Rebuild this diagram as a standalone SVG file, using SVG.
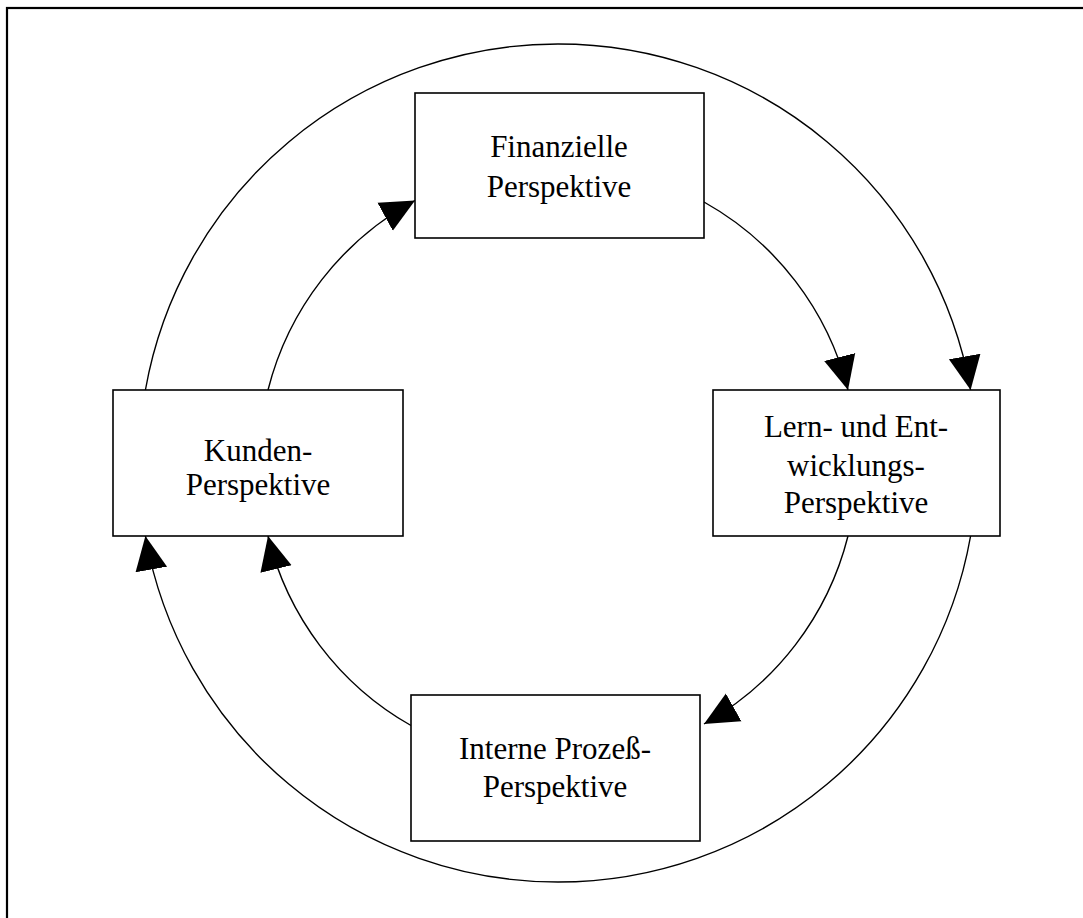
<svg xmlns="http://www.w3.org/2000/svg" width="1083" height="918" viewBox="0 0 1083 918">
  <style>
    .box { fill: #ffffff; stroke: #000000; stroke-width: 1.6; }
    .lbl { font-family: "Liberation Serif", "Times New Roman", serif; font-size: 31px; fill: #000000; text-anchor: middle; }
    .arc { fill: none; stroke: #000000; stroke-width: 1.4; marker-end: url(#head); }
  </style>
  <defs>
    <marker id="head" markerUnits="userSpaceOnUse" viewBox="0 0 34 34" refX="34" refY="17" markerWidth="34" markerHeight="34" orient="auto">
      <path d="M0,1 L34,17 L0,33 z" fill="#000000"/>
    </marker>
  </defs>
  <rect width="1083" height="918" fill="#ffffff"/>
  <!-- page frame (runs off the right and bottom edges) -->
  <rect x="7" y="8" width="1100" height="930" fill="none" stroke="#000000" stroke-width="2.2"/>

  <g id="connectors">
    <!-- outer ring -->
    <path class="arc" d="M145.4,390 A419,419 0 0 1 970.6,390"/>
    <path class="arc" d="M970.6,536 A419,419 0 0 1 145.4,536"/>
    <!-- inner ring -->
    <path class="arc" d="M268,390 A299,299 0 0 1 415,200.5"/>
    <path class="arc" d="M704,202 A299,299 0 0 1 848,390"/>
    <path class="arc" d="M848,536 A299,299 0 0 1 704,724"/>
    <path class="arc" d="M411,725.5 A299,299 0 0 1 268,536"/>
  </g>

  <g id="finanzielle">
    <rect class="box" x="415" y="93" width="289" height="145"/>
    <text class="lbl" x="559" y="157">Finanzielle</text>
    <text class="lbl" x="559" y="197">Perspektive</text>
  </g>
  <g id="kunden">
    <rect class="box" x="113" y="390" width="290" height="146"/>
    <text class="lbl" x="258" y="461">Kunden-</text>
    <text class="lbl" x="258" y="495">Perspektive</text>
  </g>
  <g id="lernen">
    <rect class="box" x="713" y="390" width="287" height="146"/>
    <text class="lbl" x="856" y="437">Lern- und Ent-</text>
    <text class="lbl" x="856" y="476">wicklungs-</text>
    <text class="lbl" x="856" y="513">Perspektive</text>
  </g>
  <g id="prozess">
    <rect class="box" x="411" y="695" width="289" height="146"/>
    <text class="lbl" x="555" y="759">Interne Prozeß-</text>
    <text class="lbl" x="555" y="797">Perspektive</text>
  </g>
</svg>
